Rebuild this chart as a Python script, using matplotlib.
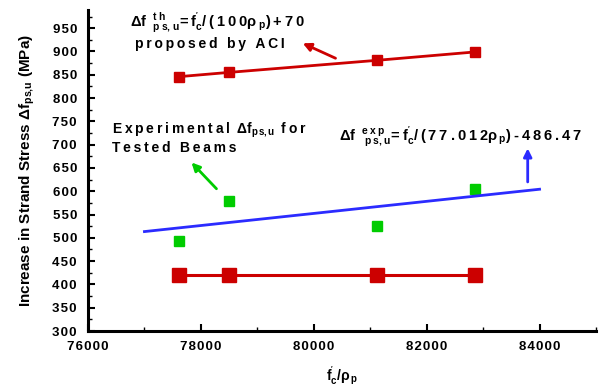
import matplotlib
matplotlib.use('Agg')
import matplotlib.pyplot as plt
from matplotlib.ticker import MultipleLocator, FuncFormatter

plt.rcParams['font.family'] = ['Liberation Sans', 'DejaVu Sans']
plt.rcParams['font.weight'] = 'bold'
plt.rcParams['mathtext.fontset'] = 'custom'
plt.rcParams['mathtext.rm'] = 'Liberation Sans:bold'
plt.rcParams['mathtext.it'] = 'Liberation Sans:bold'
plt.rcParams['mathtext.bf'] = 'Liberation Sans:bold'
plt.rcParams['mathtext.default'] = 'rm'

# data
ratio = [77620, 78490, 81120, 82860]          # f'c / rho_p
df_aci = [846, 855, 881, 899]                  # proposed by ACI
df_exp = [493, 579, 525, 605]                  # tested beams
df_low = [420, 420, 420, 420]
fit_x = [77000, 84000]
fit_y = [513.4, 604.3]

red = '#CC0000'
green = '#00CC00'
blue = '#2B2BFF'
TS = '\u2009'
HS = '\u200a'


def track(s, sp=TS):
    # wide letter spacing like the original, only outside $...$
    parts = s.split('$')
    for i in range(0, len(parts), 2):
        parts[i] = sp.join(parts[i])
    return '$'.join(parts)


fig = plt.figure(figsize=(5.99, 3.87), dpi=100)
ax = fig.add_axes([88/599, 56/387, (596-88)/599, (331-10)/387])

ax.plot(ratio, df_aci, color=red, lw=2, marker='s', ms=7.5, mec=red, mfc=red)
ax.plot(ratio, df_low, color=red, lw=2.2, marker='s', ms=9.5, mec=red, mfc=red)
ax.plot(ratio, df_exp, ls='none', marker='s', ms=7, color=green)
ax.plot(fit_x, fit_y, color=blue, lw=2)

ax.set_xlim(76000, 85000)
ax.set_ylim(300, 989)
ax.set_xticks([76000, 78000, 80000, 82000, 84000])
ax.set_yticks(range(300, 951, 50))
ax.xaxis.set_minor_locator(MultipleLocator(1000))
ax.yaxis.set_minor_locator(MultipleLocator(25))
fmt = FuncFormatter(lambda v, p: HS.join('%d' % v))
ax.xaxis.set_major_formatter(fmt)
ax.yaxis.set_major_formatter(fmt)
ax.tick_params(which='major', direction='in', length=5, width=1.5, labelsize=9.5)
ax.tick_params(axis='x', which='major', pad=7)
ax.tick_params(axis='y', which='major', pad=8)
ax.tick_params(which='minor', direction='in', length=3, width=1)
for lab in ax.get_xticklabels() + ax.get_yticklabels():
    lab.set_fontweight('bold')
for s in ['top', 'right']:
    ax.spines[s].set_visible(False)
for s in ['left', 'bottom']:
    ax.spines[s].set_linewidth(2.2)

ax.set_ylabel(r'Increase in Strand Stress $\Delta$f$_{ps{,}u}$ (MPa)', fontsize=11,
              fontweight='bold', labelpad=11)
ax.set_xlabel(r"f$^{'}_{c}$/$\rho_{\,p}$", fontsize=10, fontweight='bold', labelpad=8)

ax.text(76740, 952, track(r"$\Delta$f $^{t\;h}_{p\;s{,}\;u}$=f$^{'}_{c}$/(100$\rho_{\;p}$)+70"), fontsize=10.5)
ax.text(76830, 908, track('proposed by ACI'), fontsize=10)
ax.annotate('', xy=(79760, 920), xytext=(80430, 883),
            arrowprops=dict(arrowstyle='-|>', color=red, lw=2, mutation_scale=12))

ax.text(76420, 724, track(r'Experimental $\Delta$f$_{p\,s{,}\,u}$ for'), fontsize=10)
ax.text(76420, 684, track('Tested Beams'), fontsize=10)
ax.annotate('', xy=(77800, 666), xytext=(78310, 601),
            arrowprops=dict(arrowstyle='-|>', color=green, lw=2, mutation_scale=12))

ax.text(80450, 708, track(r"$\Delta$f $^{e\;x\;p}_{\;p\;s{,}\;u}$=f$^{'}_{c}$/(77.012$\rho_{\;p}$)-486.47"),
        fontsize=10.5)
ax.annotate('', xy=(83790, 698), xytext=(83790, 614),
            arrowprops=dict(arrowstyle='-|>', color=blue, lw=2, mutation_scale=12))

fig.savefig('out.png', dpi=100)
